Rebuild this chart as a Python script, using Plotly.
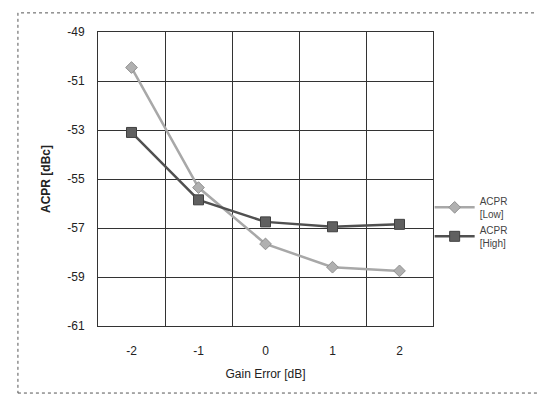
import plotly.graph_objects as go

gain_error = [-2, -1, 0, 1, 2]
tick_labels = ["-2", "-1", "0", "1", "2"]
acpr_low = [-50.45, -55.35, -57.65, -58.6, -58.75]
acpr_high = [-53.1, -55.85, -56.75, -56.95, -56.85]
y_ticks = [-49, -51, -53, -55, -57, -59, -61]

fig = go.Figure()
fig.add_trace(go.Scatter(
    x=gain_error, y=acpr_low, mode="lines+markers", name="ACPR<br>[Low]",
    line=dict(color="#a8a8a8", width=2.5),
    marker=dict(symbol="diamond", size=9, color="#b0b0b0", line=dict(color="#909090", width=1)),
))
fig.add_trace(go.Scatter(
    x=gain_error, y=acpr_high, mode="lines+markers", name="ACPR<br>[High]",
    line=dict(color="#505050", width=2.5),
    marker=dict(symbol="square", size=10, color="#606060", line=dict(color="#404040", width=1)),
))

font = "Liberation Sans, Arial, sans-serif"
fig.update_layout(
    width=545, height=394,
    margin=dict(l=90, r=120, t=24, b=76),
    paper_bgcolor="white", plot_bgcolor="white",
    font=dict(family=font, size=12, color="#222"),
    legend=dict(x=0.99, y=0.47, xanchor="left", yanchor="top",
                font=dict(size=10, color="#444"), tracegroupgap=8,
                itemwidth=40,
                bgcolor="rgba(0,0,0,0)"),
    xaxis=dict(
        range=[-2.5, 2.5], tickvals=gain_error, ticktext=tick_labels,
        showgrid=False, zeroline=False, ticks="",
        showline=True, linecolor="#333", linewidth=1, mirror=True,
        minor=dict(tickvals=[-1.5, -0.5, 0.5, 1.5], showgrid=True,
                   gridcolor="#333", gridwidth=1, ticks=""),
        title=dict(text="Gain Error [dB]", font=dict(size=12, color="#222"), standoff=12),
        ticklabelstandoff=14,
    ),
    yaxis=dict(
        range=[-61, -49], tickvals=y_ticks, ticktext=[str(v) for v in y_ticks],
        showgrid=True, gridcolor="#333", gridwidth=1, zeroline=False, ticks="",
        showline=True, linecolor="#333", linewidth=1, mirror=True,
        ticklabelstandoff=10,
        title=dict(text="<b>ACPR [dBc]</b>", font=dict(size=12, color="#222"), standoff=14),
    ),
    shapes=[dict(type="rect", xref="paper", yref="paper",
                 x0=-0.239, x1=1.343, y0=-0.228, y1=1.065,
                 line=dict(color="#555", width=1, dash="dot"))],
)

fig.write_html("out.html")
